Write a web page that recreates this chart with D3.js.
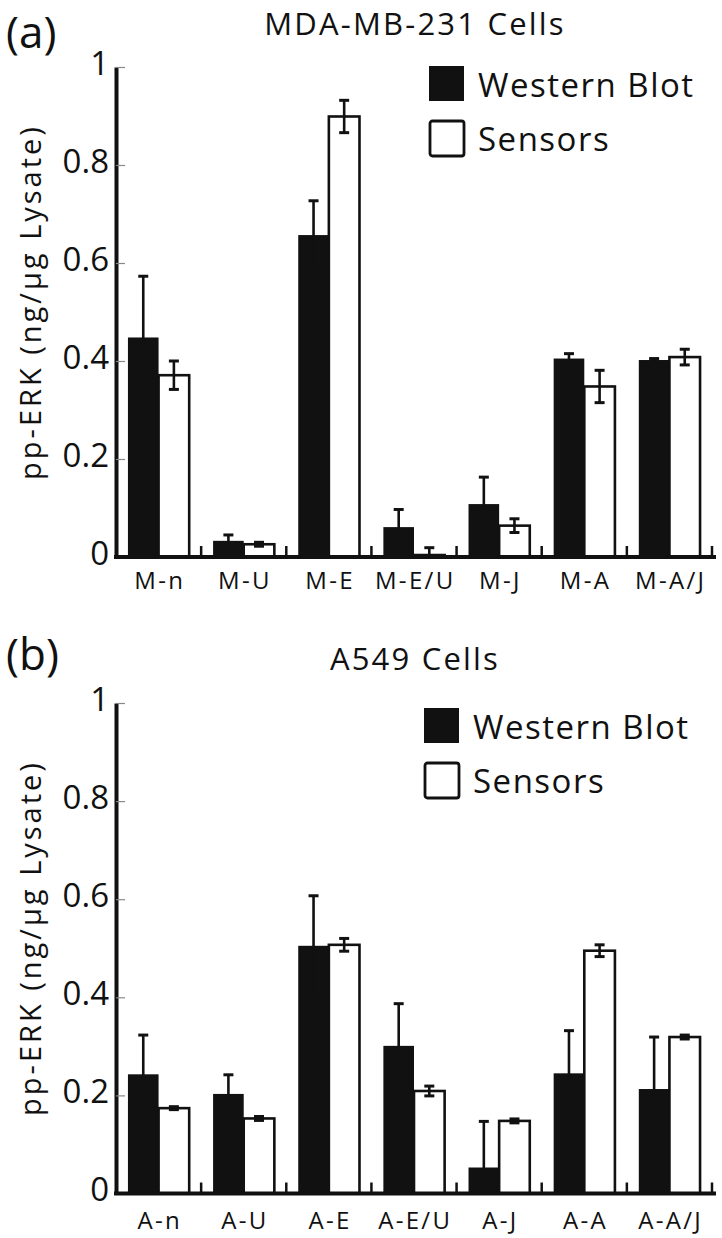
<!DOCTYPE html>
<html>
<head>
<meta charset="utf-8">
<script src="https://cdn.jsdelivr.net/npm/d3@7"></script>
<style>
  html, body { margin: 0; padding: 0; background: #fff; }
  svg { display: block; }
  text { font-family: "Open Sans", "Noto Sans", sans-serif; fill: #111; }
</style>
</head>
<body>
<svg id="chart" width="722" height="1238"></svg>
<script>
// ---------- data ----------
const seriesNames = ["Western Blot", "Sensors"];
const yTickValues = [0, 0.2, 0.4, 0.6, 0.8, 1];
const yTickLabels = ["0", "0.2", "0.4", "0.6", "0.8", "1"];
const yLabel = "pp-ERK (ng/μg Lysate)";

const categoriesA = ["M-n", "M-U", "M-E", "M-E/U", "M-J", "M-A", "M-A/J"];
const westernA    = [0.448, 0.033, 0.657, 0.061, 0.108, 0.405, 0.402];
const westernErrA = [0.125, 0.012, 0.070, 0.036, 0.055, 0.010, 0.003];
const sensorsA    = [0.371, 0.026, 0.899, 0.004, 0.064, 0.348, 0.408];
const sensorsErrA = [0.029, 0.004, 0.033, 0.015, 0.014, 0.033, 0.016];

const categoriesB = ["A-n", "A-U", "A-E", "A-E/U", "A-J", "A-A", "A-A/J"];
const westernB    = [0.243, 0.203, 0.505, 0.301, 0.053, 0.245, 0.213];
const westernErrB = [0.080, 0.039, 0.102, 0.086, 0.094, 0.087, 0.106];
const sensorsB    = [0.174, 0.153, 0.507, 0.209, 0.148, 0.495, 0.319];
const sensorsErrB = [0.003, 0.004, 0.013, 0.010, 0.004, 0.012, 0.004];

// ---------- drawing ----------
const svg = d3.select("#chart");
svg.append("rect").attr("width", 722).attr("height", 1238).attr("fill", "#fff");

function drawPanel(cfg) {
  const g = svg.append("g");
  const left = 116, right = 712;
  const y = d3.scaleLinear().domain([0, 1]).range([cfg.y0, cfg.y1]);
  const x0 = d3.scaleBand().domain(cfg.categories).range([left, right]).padding(0);
  const x1 = d3.scaleBand().domain(seriesNames).range([0, x0.bandwidth()])
    .paddingInner(0).paddingOuter(0.39);

  const rows = cfg.categories.map((c, i) => ({
    cat: c,
    vals: [
      { s: seriesNames[0], v: cfg.western[i], e: cfg.westernErr[i] },
      { s: seriesNames[1], v: cfg.sensors[i], e: cfg.sensorsErr[i] }
    ]
  }));

  // bars
  const grp = g.selectAll("g.grp").data(rows).join("g")
    .attr("class", "grp")
    .attr("transform", d => `translate(${x0(d.cat)},0)`);

  grp.selectAll("rect").data(d => d.vals).join("rect")
    .attr("x", d => x1(d.s))
    .attr("width", x1.bandwidth())
    .attr("y", d => y(d.v))
    .attr("height", d => y(0) - y(d.v))
    .attr("fill", d => d.s === seriesNames[0] ? "#111" : "#fff")
    .attr("stroke", "#111")
    .attr("stroke-width", d => d.s === seriesNames[0] ? 0 : 2.6);

  // error bars
  const eb = grp.selectAll("g.err").data(d => d.vals).join("g").attr("class", "err");
  eb.append("line")
    .attr("x1", d => x1(d.s) + x1.bandwidth() / 2)
    .attr("x2", d => x1(d.s) + x1.bandwidth() / 2)
    .attr("y1", d => y(Math.max(0, d.v - d.e)))
    .attr("y2", d => y(d.v + d.e))
    .attr("stroke", "#111").attr("stroke-width", 2.6);
  eb.append("line")
    .attr("x1", d => x1(d.s) + x1.bandwidth() / 2 - 5)
    .attr("x2", d => x1(d.s) + x1.bandwidth() / 2 + 5)
    .attr("y1", d => y(d.v + d.e))
    .attr("y2", d => y(d.v + d.e))
    .attr("stroke", "#111").attr("stroke-width", 3);
  eb.filter(d => d.s === seriesNames[1]).append("line")
    .attr("x1", d => x1(d.s) + x1.bandwidth() / 2 - 5)
    .attr("x2", d => x1(d.s) + x1.bandwidth() / 2 + 5)
    .attr("y1", d => y(Math.max(0, d.v - d.e)))
    .attr("y2", d => y(Math.max(0, d.v - d.e)))
    .attr("stroke", "#111").attr("stroke-width", 3);

  // y axis
  const yAxis = d3.axisLeft(y)
    .tickValues(yTickValues)
    .tickFormat((d, i) => yTickLabels[i])
    .tickSizeInner(-9).tickSizeOuter(0).tickPadding(7);
  const ya = g.append("g").attr("transform", `translate(${left},0)`).call(yAxis);
  ya.select(".domain").attr("stroke", "#111").attr("stroke-width", 4);
  ya.selectAll(".tick line").attr("stroke", "#888").attr("stroke-width", 1.2);
  ya.selectAll(".tick text")
    .attr("font-size", 33).attr("font-family", "Open Sans")
    .attr("fill", "#111").attr("dy", "0.22em");

  // x axis
  const xAxis = d3.axisBottom(x0).tickSize(0).tickPadding(0);
  const xa = g.append("g").attr("transform", `translate(0,${cfg.y0})`).call(xAxis);
  xa.select(".domain").remove();
  xa.selectAll(".tick text")
    .attr("font-size", 24).attr("font-family", "Open Sans")
    .attr("letter-spacing", "2.3px")
    .attr("fill", "#111")
    .attr("dy", 0).attr("dx", 1.2)
    .attr("y", cfg.labelOffset);
  g.append("line")
    .attr("x1", left - 2).attr("x2", right + 4)
    .attr("y1", y(0)).attr("y2", y(0))
    .attr("stroke", "#111").attr("stroke-width", 4);
  // group separator ticks
  const seps = cfg.categories.slice(1).map(c => x0(c)).concat([x0.range()[1]]);
  g.selectAll("line.sep").data(seps).join("line")
    .attr("class", "sep")
    .attr("x1", d => d).attr("x2", d => d)
    .attr("y1", y(0)).attr("y2", y(0) - 11)
    .attr("stroke", "#111").attr("stroke-width", 2.5);

  // y label
  g.append("text")
    .attr("transform", `translate(${cfg.yLabelX},${cfg.yLabelY}) rotate(-90)`)
    .attr("text-anchor", "middle")
    .attr("font-size", 29).attr("letter-spacing", "3px")
    .text(yLabel);

  // panel letter
  g.append("text").attr("x", 6).attr("y", cfg.letterY)
    .attr("font-size", 44).text(cfg.letter);

  // title
  g.append("text").attr("x", (left + right) / 2 + 1).attr("y", cfg.titleY)
    .attr("text-anchor", "middle").attr("font-size", 31)
    .attr("letter-spacing", "2.2px").text(cfg.title);

  // legend
  const lg = g.append("g").attr("transform", `translate(${cfg.legendX},${cfg.legendY})`);
  const items = lg.selectAll("g").data(seriesNames).join("g")
    .attr("transform", (d, i) => `translate(0,${i * 54})`);
  items.append("rect")
    .attr("x", d => d === seriesNames[0] ? 0 : 1)
    .attr("y", d => d === seriesNames[0] ? 0 : 1)
    .attr("width", d => d === seriesNames[0] ? 35 : 34)
    .attr("height", d => d === seriesNames[0] ? 35 : 35)
    .attr("rx", d => d === seriesNames[0] ? 0 : 2.5)
    .attr("fill", d => d === seriesNames[0] ? "#111" : "#fff")
    .attr("stroke", "#111")
    .attr("stroke-width", d => d === seriesNames[0] ? 0 : 2.8);
  items.append("text").attr("x", 49).attr("y", 31)
    .attr("font-size", 33).attr("letter-spacing", "1.5px").text(d => d);
}

drawPanel({
  letter: "(a)", letterY: 48, title: "MDA-MB-231 Cells", titleY: 35,
  categories: categoriesA, western: westernA, westernErr: westernErrA,
  sensors: sensorsA, sensorsErr: sensorsErrA,
  y0: 557, y1: 67, labelOffset: 32,
  yLabelX: 41, yLabelY: 302,
  legendX: 429, legendY: 66
});

drawPanel({
  letter: "(b)", letterY: 670, title: "A549 Cells", titleY: 670,
  categories: categoriesB, western: westernB, westernErr: westernErrB,
  sensors: sensorsB, sensorsErr: sensorsErrB,
  y0: 1193.5, y1: 703, labelOffset: 35,
  yLabelX: 41, yLabelY: 938,
  legendX: 424, legendY: 708
});
</script>
</body>
</html>
